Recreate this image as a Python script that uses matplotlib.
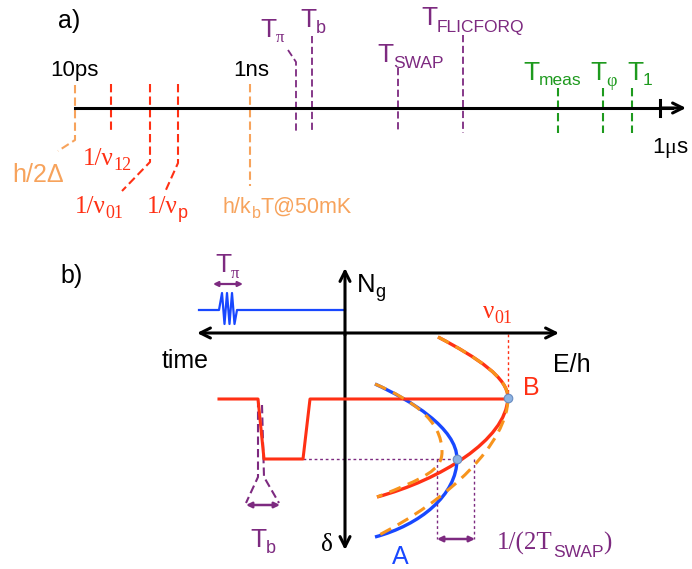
"""Timescales (a) and level-crossing sketch (b)."""

import matplotlib.pyplot as plt
from matplotlib.patches import PathPatch
from matplotlib.path import Path

SANS = "Liberation Sans"
SERIF = "Liberation Serif"

ORANGE_A = "#f7a35c"
RED = "#ff3014"
PURPLE = "#7d2a80"
GREEN = "#1e9a1e"
BLUE = "#1848ff"
ORANGE_B = "#f7941d"

# ---- panel a: timeline (schematic positions along the arrow) ----
scale_labels = ["10ps", "1ns", "1\u03bcs"]
scale_pos = [75, 250, 660]

# leader lines: colour, x on axis, top, bottom, optional bend-to point
leaders = [
    (ORANGE_A, 75, 85, 140, (58, 151)),
    (RED, 111, 84, 133, None),
    (RED, 150, 84, 162, (122, 191)),
    (RED, 178, 84, 163, (165, 192)),
    (ORANGE_A, 250, 84, 186, None),
    (PURPLE, 296, 62, 133, (288, 50)),
    (PURPLE, 312, 36, 133, None),
    (PURPLE, 398, 68, 133, None),
    (PURPLE, 463, 35, 133, None),
    (GREEN, 558, 88, 133, None),
    (GREEN, 603, 88, 133, None),
    (GREEN, 632, 88, 133, None),
]

# ---- panel b: energy levels vs detuning (sketch control points) ----
pulse_x = [199, 219, 222, 224.5, 227, 229.5, 232, 234.5, 237, 345]
pulse_y = [310, 310, 293, 324, 293, 324, 293, 324, 310, 310]

step_x = [219, 258, 264, 303, 310, 508]
step_y = [399, 399, 459, 459, 399, 399]

curve_B = [(438, 337), (478, 358), (508, 378), (508, 398),
           (506, 440), (440, 480), (377, 497)]
curve_A = [(375, 384), (410, 400), (457, 428), (457, 459),
           (457, 495), (420, 525), (375, 537)]
diab_1 = [(438, 337), (478, 358), (508, 378), (508, 398),
          (508, 442), (450, 500), (375, 537)]
diab_2 = [(375, 384), (412, 400), (442, 420), (442, 452),
          (442, 470), (425, 478), (377, 497)]
dots = [(508, 398), (457, 459)]


fig = plt.figure(figsize=(6.92, 5.69), dpi=100)
ax = fig.add_axes([0, 0, 1, 1])
ax.set_xlim(0, 692)
ax.set_ylim(569, 0)
ax.axis("off")
renderer = fig.canvas.get_renderer()


def rich(x, y, parts, colour):
    # parts: (text, size, drop, family), laid out left to right on a baseline
    for s, size, drop, fam in parts:
        t = ax.text(x, y + drop, s, fontsize=size, color=colour, family=fam,
                    ha="left", va="baseline")
        bb = t.get_window_extent(renderer)
        x = ax.transData.inverted().transform((bb.x1, bb.y0))[0]


def arrow(p0, p1, style="->", lw=2.2, colour="black", ms=18):
    ax.annotate("", xy=p1, xytext=p0,
                arrowprops=dict(arrowstyle=style, lw=lw, color=colour,
                                shrinkA=0, shrinkB=0, mutation_scale=ms))


def bezier(pts, colour, lw=2.4, ls="-", z=2):
    codes = [Path.MOVETO] + [Path.CURVE4] * (len(pts) - 1)
    ax.add_patch(PathPatch(Path(pts, codes), fill=False, edgecolor=colour,
                           lw=lw, linestyle=ls, capstyle="butt", zorder=z))


# panel a
rich(58, 28, [("a)", 18, 0, SANS)], "black")
ax.plot([75, 672], [108, 108], color="black", lw=2.2, zorder=3)
arrow((660, 108), (686, 108))
ax.plot([660, 660], [100, 116], color="black", lw=2.2)

for s, x in zip(scale_labels[:2], scale_pos[:2]):
    rich(x - 25 if s == "10ps" else x - 17, 76, [(s, 16, 0, SANS)], "black")
rich(652, 153, [("1", 16, 0, SANS), ("\u03bc", 16, 0, SERIF), ("s", 16, 0, SANS)], "black")

for colour, x, top, bottom, bend in leaders:
    xs, ys = [x, x], [top, bottom]
    if bend is not None:
        if bend[1] > bottom:
            xs.append(bend[0]); ys.append(bend[1])
        else:
            xs.insert(0, bend[0]); ys.insert(0, bend[1])
    lw = 1.5 if colour != PURPLE else 1.3
    ax.plot(xs, ys, color=colour, lw=lw, ls=(0, (4, 2)))

rich(12, 182, [("h/2\u0394", 18, 0, SANS)], ORANGE_A)
rich(83, 165, [("1/\u03bd", 18, 0, SERIF), ("12", 13, 5, SERIF)], RED)
rich(75, 213, [("1/\u03bd", 18, 0, SERIF), ("01", 13, 5, SERIF)], RED)
rich(147, 213, [("1/\u03bd", 18, 0, SERIF), ("p", 13, 5, SANS)], RED)
rich(223, 213, [("h/k", 15.5, 0, SANS), ("b", 11.5, 5, SANS), ("T@50mK", 15.5, 0, SANS)], ORANGE_A)

rich(260, 37, [("T", 19, 0, SANS), ("\u03c0", 12, 5, SERIF)], PURPLE)
rich(300, 27, [("T", 19, 0, SANS), ("b", 13, 6, SANS)], PURPLE)
rich(377, 62, [("T", 19, 0, SANS), ("SWAP", 12.5, 6, SANS)], PURPLE)
rich(421, 25, [("T", 19, 0, SANS), ("FLICFORQ", 12.5, 7, SANS)], PURPLE)
rich(523, 80, [("T", 19, 0, SANS), ("meas", 12.5, 5, SANS)], GREEN)
rich(590, 80, [("T", 19, 0, SANS), ("\u03c6", 13, 6, SERIF)], GREEN)
rich(627, 80, [("T", 19, 0, SANS), ("1", 12.5, 5, SANS)], GREEN)

# panel b
rich(60, 283, [("b)", 18, 0, SANS)], "black")
arrow((345, 335), (345, 268))
arrow((345, 335), (345, 550))
arrow((345, 333), (197, 333))
arrow((345, 333), (559, 333))
rich(357, 292, [("N", 18.5, 0, SANS), ("g", 13, 5, SANS)], "black")
rich(321, 551, [("\u03b4", 18, 0, SERIF)], "black")
rich(162, 368, [("time", 18, 0, SANS)], "black")
rich(553, 372, [("E/h", 18, 0, SANS)], "black")

ax.plot(pulse_x, pulse_y, color=BLUE, lw=1.6)
arrow((213, 284), (243, 284), style="<|-|>", lw=1.6, colour=PURPLE, ms=7)
rich(215, 272, [("T", 19, 0, SANS), ("\u03c0", 12, 6, SERIF)], PURPLE)

ax.plot(step_x, step_y, color=RED, lw=2.2, zorder=3)
ax.plot([258, 258, 246], [399, 477, 503], color=PURPLE, lw=1.5, ls=(0, (4, 2)))
ax.plot([262, 264, 279], [405, 477, 503], color=PURPLE, lw=1.5, ls=(0, (4, 2)))
arrow((246, 505), (280, 505), style="<|-|>", lw=1.8, colour=PURPLE, ms=8)
rich(250, 547, [("T", 19, 0, SANS), ("b", 13, 6, SANS)], PURPLE)

ax.plot([508, 508], [334, 398], color=RED, lw=1, ls=(0, (2, 2)))
ax.plot([303, 457], [459, 459], color=PURPLE, lw=1, ls=(0, (2, 2)))
ax.plot([437, 437], [459, 539], color=PURPLE, lw=1, ls=(0, (2, 2)))
ax.plot([474, 474], [459, 539], color=PURPLE, lw=1, ls=(0, (2, 2)))
arrow((437, 539), (475, 539), style="<|-|>", lw=1.8, colour=PURPLE, ms=8)

bezier(curve_B, RED)
bezier(curve_A, BLUE)
bezier(diab_1, ORANGE_B, lw=2.2, ls=(0, (4, 2.5)), z=3)
bezier(diab_2, ORANGE_B, lw=2.2, ls=(0, (4, 2.5)), z=3)
ax.scatter(*zip(*dots), s=38, color="#8db3e2", edgecolor="#6a8cc0", lw=0.8, zorder=5)

rich(483, 318, [("\u03bd", 18, 0, SERIF), ("01", 13, 5, SERIF)], RED)
rich(523, 395, [("B", 18, 0, SANS)], RED)
rich(392, 564, [("A", 18, 0, SANS)], BLUE)
rich(497, 550, [("1/(2T", 18, 0, SERIF), ("SWAP", 12.5, 7, SANS), (")", 18, 0, SERIF)], PURPLE)

fig.savefig("out.png", dpi=100)
